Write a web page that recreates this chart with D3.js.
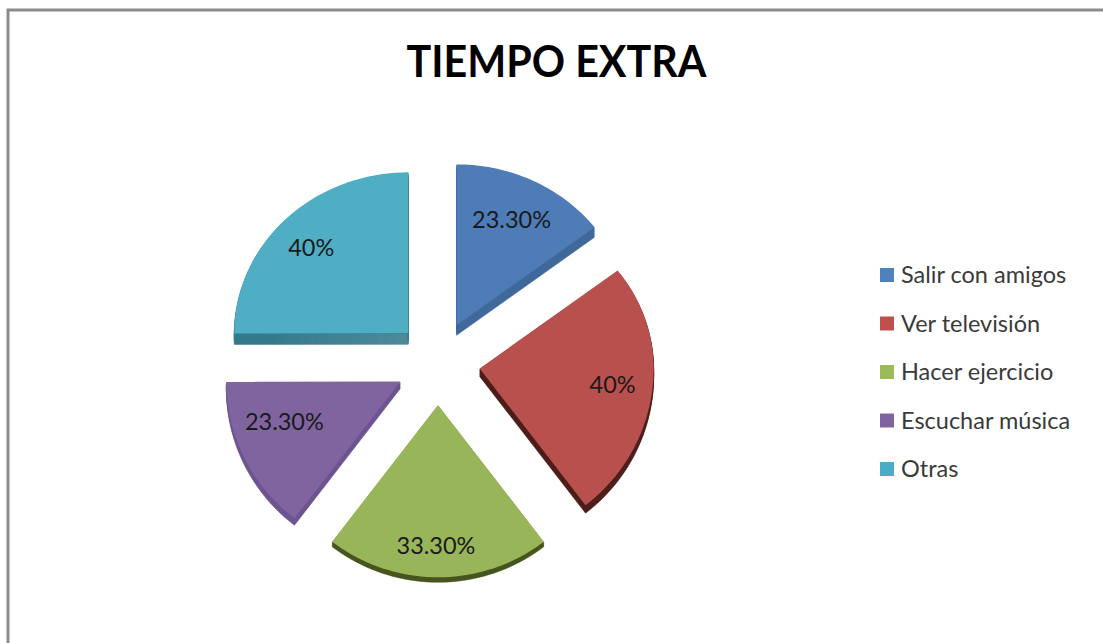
<!DOCTYPE html>
<html><head><meta charset="utf-8">
<script src="https://cdn.jsdelivr.net/npm/d3@7"></script>
<style>html,body{margin:0;padding:0;background:#fff;overflow:hidden}svg{display:block}text{font-family:Lato,"Open Sans",sans-serif}</style>
</head><body><svg id="c" width="1103" height="643"></svg>
<script>
const categories = ["Salir con amigos","Ver televisión","Hacer ejercicio","Escuchar música","Otras"];
const values = [23.3,40,33.3,23.3,40];
const valueLabels = ["23.30%","40%","33.30%","23.30%","40%"];
const faceColors = ["#4d7cb6","#b8504d","#98b55a","#80649f","#4fadc4"];
const sideColors = ["#41699b","#4e1f1c","#47551f","#6d5590","#357a8c"];
const legendColors = ["#4f81bd","#c0504d","#9bbb59","#8064a2","#4bacc6"];
const titleText = "TIEMPO EXTRA";

// layout
const cx=438, cy=363, explode=42, R=174, upperK=0.925, lowerK=0.99;
const depths=[10,8,5,7,11];
const labelOffsets=[[55,-105],[133,17],[-2,141],[-116,40],[-97,-85]];

const svg=d3.select("#c");
svg.append("path").attr("d","M8,643V10H1103").attr("fill","none").attr("stroke","#8b8b8b").attr("stroke-width",3);

svg.append("text").attr("x",556.5).attr("y",77).attr("text-anchor","middle")
  .attr("font-size",44).attr("font-weight",700).attr("fill","#000").attr("textLength",300).attr("lengthAdjust","spacingAndGlyphs").text(titleText);

const arcs=d3.pie().sort(null).value(d=>d)(values);
const line=d3.line();
function facePoints(a){
  const mid=(a.startAngle+a.endAngle)/2;
  const ox=cx+explode*Math.sin(mid), oy=cy-explode*Math.cos(mid);
  const map=t=>{const dx=R*Math.sin(t),dy=-R*Math.cos(t);return [ox+dx,oy+dy*(dy<0?upperK:lowerK)];};
  const angs=d3.range(0,41).map(i=>a.startAngle+(a.endAngle-a.startAngle)*i/40);
  return {o:[ox,oy],pts:[[ox,oy],...angs.map(map)]};
}
const g=svg.append("g").attr("class","slices");
arcs.forEach((a,i)=>{
  const f=facePoints(a);
  const side=d3.range(1,depths[i]+1).map(s=>line(f.pts.map(p=>[p[0],p[1]+s]))+"Z").join("");
  g.append("path").attr("d",side).attr("fill",sideColors[i]).attr("stroke",sideColors[i]).attr("stroke-width",0.5);
  g.append("path").attr("d",line(f.pts)+"Z").attr("fill",faceColors[i]);
  g.append("text").attr("x",f.o[0]+labelOffsets[i][0]).attr("y",f.o[1]+labelOffsets[i][1]+8)
    .attr("text-anchor","middle").attr("font-size",23.5).attr("fill","#1a1a1a").text(valueLabels[i]);
});

const ly=d3.scalePoint().domain(categories).range([275,469]);
const lg=svg.append("g").attr("class","legend");
categories.forEach((c,i)=>{
  lg.append("rect").attr("x",880).attr("y",ly(c)-7).attr("width",14).attr("height",14).attr("fill",legendColors[i]);
  lg.append("text").attr("x",901).attr("y",ly(c)+8).attr("font-size",23.5).attr("fill","#3a3a3a").text(c);
});
</script></body></html>
